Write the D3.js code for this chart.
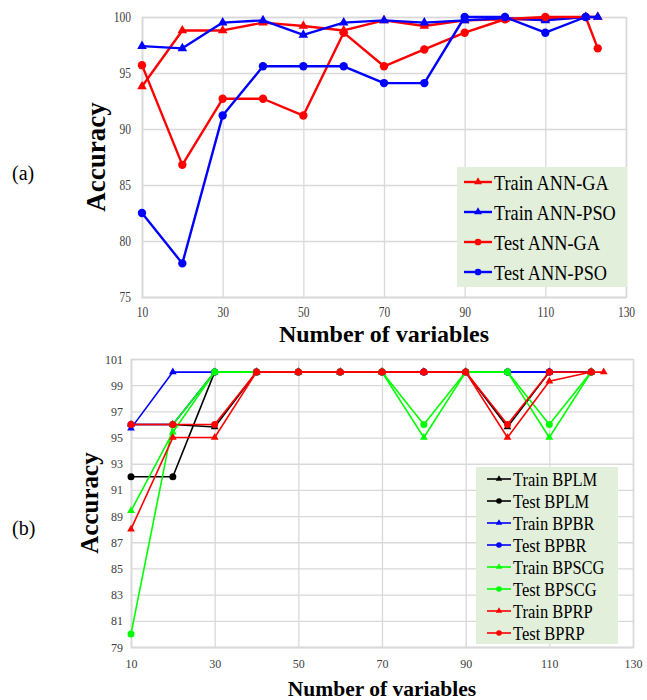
<!DOCTYPE html>
<html><head><meta charset="utf-8">
<script src="https://cdn.jsdelivr.net/npm/d3@7"></script>
<style>body{margin:0;background:#fff}text{font-family:"Liberation Serif","Times New Roman",serif}</style>
</head><body>
<svg id="c" width="647" height="700"></svg>
<script>
// ---------- data ----------
const xVals = [10,20,30,40,50,60,70,80,90,100,110,120,123];
const xTicks = [10,30,50,70,90,110,130];
const yTicksA = [75,80,85,90,95,100];
const yTicksB = [79,81,83,85,87,89,91,93,95,97,99,101];

// panel (a)
const namesA = ["Train ANN-GA","Train ANN-PSO","Test ANN-GA","Test ANN-PSO"];
const trainGA  = [93.8,98.8,98.8,99.5,99.2,98.8,99.7,99.2,99.7,99.8,99.8,100,100];
const trainPSO = [97.4,97.2,99.5,99.7,98.4,99.5,99.7,99.5,99.7,99.9,99.7,100,100];
const testGA   = [95.7,86.8,92.7,92.7,91.2,98.6,95.6,97.1,98.6,99.8,100,100,97.2];
const testPSO  = [82.5,78.0,91.2,95.6,95.6,95.6,94.1,94.1,100,100,98.6,100,null];

// panel (b)
const namesB = ["Train BPLM","Test BPLM","Train BPBR","Test BPBR","Train BPSCG","Test BPSCG","Train BPRP","Test BPRP"];
const trainBPLM  = [96,96,95.8,100,100,100,100,100,100,95.8,100,100,null];
const testBPLM   = [92,92,100,100,100,100,100,100,100,100,100,100,null];
const trainBPBR  = [95.7,100,100,100,100,100,100,100,100,100,100,100,null];
const testBPBR   = [96,96,100,100,100,100,100,100,100,100,100,100,null];
const trainBPSCG = [89.4,95.4,100,100,100,100,100,95,100,100,95,100,null];
const testBPSCG  = [80,96,100,100,100,100,100,96,100,100,96,100,null];
const trainBPRP  = [88,95,95,100,100,100,100,100,100,95,99.3,100,100];
const testBPRP   = [96,96,96,100,100,100,100,100,100,96,100,100,null];

// ---------- drawing ----------
const svg = d3.select("#c");
const RED="#ff0000", BLUE="#0000ff", GREEN="#00ff00", BLACK="#000000";

function panel(cfg){
  const x = d3.scaleLinear().domain([10,130]).range([cfg.left,cfg.right]);
  const y = d3.scaleLinear().domain(cfg.yDomain).range([cfg.bottom,cfg.top]);
  const g = svg.append("g");
  // grid
  g.append("g").attr("transform",`translate(0,${cfg.bottom})`)
    .call(d3.axisBottom(x).tickValues(xTicks).tickSize(-(cfg.bottom-cfg.top)).tickFormat(""))
    .call(s=>{s.select(".domain").attr("stroke","#d9d9d9").attr("stroke-width",1.5);s.selectAll("line").attr("stroke","#d9d9d9").attr("stroke-width",1.3);});
  g.append("g").attr("transform",`translate(${cfg.left},0)`)
    .call(d3.axisLeft(y).tickValues(cfg.yTicks).tickSize(-(cfg.right-cfg.left)).tickFormat(""))
    .call(s=>{s.select(".domain").attr("stroke","#d9d9d9").attr("stroke-width",1.5);s.selectAll("line").attr("stroke","#d9d9d9").attr("stroke-width",1.3);});
  // tick labels
  g.append("g").attr("transform",`translate(0,${cfg.bottom})`)
    .call(d3.axisBottom(x).tickValues(xTicks).tickSize(0).tickPadding(cfg.xPad))
    .call(s=>{s.select(".domain").remove();
      s.selectAll("text").attr("font-family","Liberation Serif").attr("font-size",cfg.tickFs).attr("fill","#404040")
       .attr("transform",`scale(1,${cfg.tickStretch})`);});
  g.append("g").attr("transform",`translate(${cfg.left},0)`)
    .call(d3.axisLeft(y).tickValues(cfg.yTicks).tickSize(0).tickPadding(cfg.yPad))
    .call(s=>{s.select(".domain").remove();
      s.selectAll("text").attr("font-family","Liberation Serif").attr("font-size",cfg.tickFs).attr("fill","#404040")
       .attr("transform",`scale(1,${cfg.tickStretch})`);});
  // series
  const line = d3.line().defined(d=>d.v!=null).x(d=>x(d.x)).y(d=>y(d.v));
  cfg.series.forEach(s=>{
    const pts = xVals.map((xv,i)=>({x:xv,v:s.values[i]}));
    g.append("path").attr("d",line(pts)).attr("fill","none").attr("stroke",s.color)
      .attr("stroke-width",cfg.lw).attr("stroke-linejoin","round");
    const valid = pts.filter(d=>d.v!=null);
    if(s.shape==="tri"){
      g.selectAll(null).data(valid).join("path")
        .attr("d",d3.symbol(d3.symbolTriangle,cfg.triSize))
        .attr("transform",d=>`translate(${x(d.x)},${y(d.v)})`).attr("fill",s.color);
    } else {
      g.selectAll(null).data(valid).join("circle")
        .attr("cx",d=>x(d.x)).attr("cy",d=>y(d.v)).attr("r",cfg.r).attr("fill",s.color);
    }
  });
  // legend
  const L = cfg.legend;
  g.append("rect").attr("x",L.x).attr("y",L.y).attr("width",L.w).attr("height",L.h).attr("fill","#e2efda");
  cfg.series.forEach((s,i)=>{
    const cy = L.y0 + i*L.dy;
    g.append("line").attr("x1",L.lx1).attr("x2",L.lx2).attr("y1",cy).attr("y2",cy)
      .attr("stroke",s.color).attr("stroke-width",cfg.lw);
    const mx=(L.lx1+L.lx2)/2;
    if(s.shape==="tri") g.append("path").attr("d",d3.symbol(d3.symbolTriangle,cfg.triSize*0.7)()).attr("transform",`translate(${mx},${cy})`).attr("fill",s.color);
    else g.append("circle").attr("cx",mx).attr("cy",cy).attr("r",cfg.r*0.8).attr("fill",s.color);
    g.append("text").attr("transform",`translate(${L.tx},${cy}) scale(1,${L.stretch})`)
      .attr("dy","0.35em").attr("font-size",L.fs).attr("fill","#000").text(s.name);
  });
  // titles
  g.append("text").attr("x",(cfg.left+cfg.right)/2).attr("y",cfg.xTitleY).attr("text-anchor","middle")
    .attr("font-size",cfg.xTitleFs).attr("font-weight","bold").text("Number of variables");
  g.append("text").attr("transform",`translate(${cfg.yTitleX},${(cfg.top+cfg.bottom)/2}) rotate(-90)`).attr("text-anchor","middle")
    .attr("font-size",cfg.yTitleFs).attr("font-weight","bold").text("Accuracy");
  g.append("text").attr("x",12).attr("y",cfg.panelY).attr("font-size",20).text(cfg.panel);
}

panel({
  left:142,right:626,top:17,bottom:297,yDomain:[75,100],yTicks:yTicksA,
  xPad:8,yPad:11,tickFs:11.5,tickStretch:1.22,lw:2.4,triSize:40,r:4.2,
  series:[
    {name:namesA[0],values:trainGA,color:RED,shape:"tri"},
    {name:namesA[1],values:trainPSO,color:BLUE,shape:"tri"},
    {name:namesA[2],values:testGA,color:RED,shape:"circle"},
    {name:namesA[3],values:testPSO,color:BLUE,shape:"circle"}],
  legend:{x:457,y:167,w:170,h:120,y0:182,dy:30,lx1:464,lx2:492,tx:494,fs:18.3,stretch:1.18},
  xTitleY:342,xTitleFs:24,yTitleX:105,yTitleFs:27,panel:"(a)",panelY:180
});

panel({
  left:131,right:633,top:359,bottom:647,yDomain:[79,101],yTicks:yTicksB,
  xPad:11.5,yPad:8,tickFs:12,tickStretch:1.05,lw:1.6,triSize:26,r:3.5,
  series:[
    {name:namesB[0],values:trainBPLM,color:BLACK,shape:"tri"},
    {name:namesB[1],values:testBPLM,color:BLACK,shape:"circle"},
    {name:namesB[2],values:trainBPBR,color:BLUE,shape:"tri"},
    {name:namesB[3],values:testBPBR,color:BLUE,shape:"circle"},
    {name:namesB[4],values:trainBPSCG,color:GREEN,shape:"tri"},
    {name:namesB[5],values:testBPSCG,color:GREEN,shape:"circle"},
    {name:namesB[6],values:trainBPRP,color:RED,shape:"tri"},
    {name:namesB[7],values:testBPRP,color:RED,shape:"circle"}],
  legend:{x:476,y:467,w:142,h:177,y0:479,dy:22,lx1:487,lx2:511,tx:513,fs:16.5,stretch:1.16},
  xTitleY:696,xTitleFs:21.5,yTitleX:98,yTitleFs:25,panel:"(b)",panelY:535
});
</script>
</body></html>
